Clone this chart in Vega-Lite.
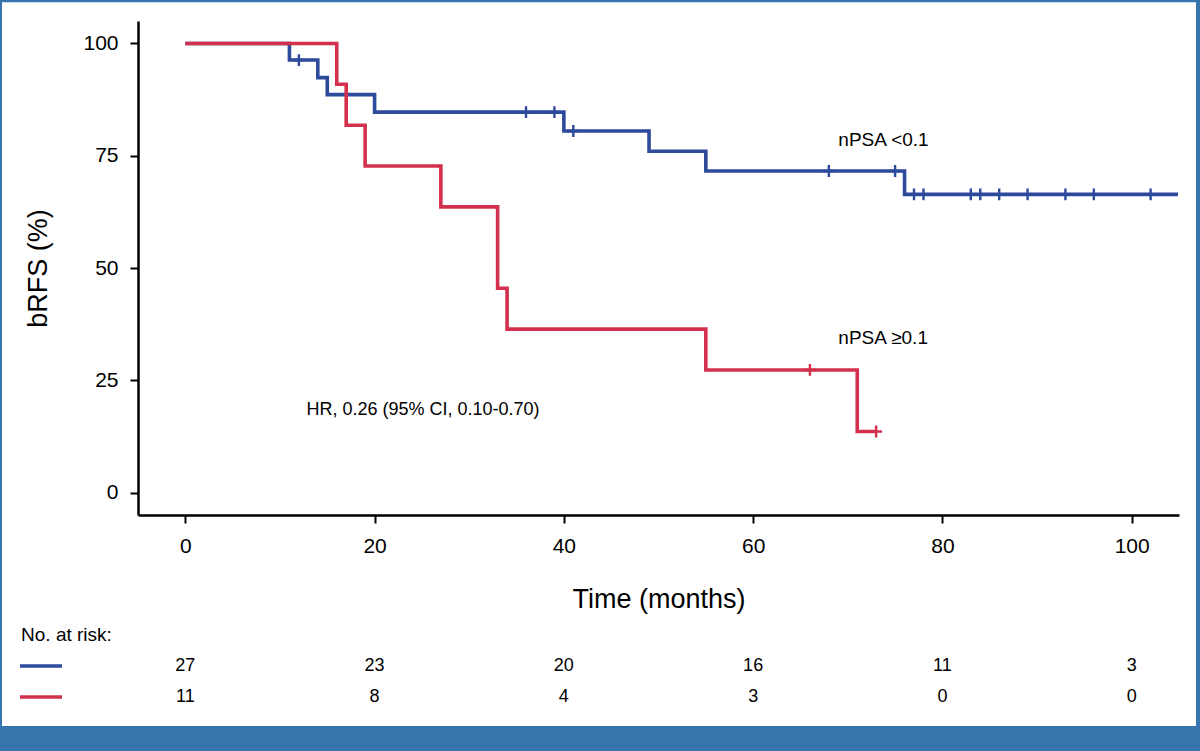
{
  "$schema": "https://vega.github.io/schema/vega-lite/v6.json",
  "width": 1041,
  "height": 494,
  "autosize": {"type": "none"},
  "padding": {"left": 138, "top": 21, "right": 21, "bottom": 236},
  "background": "#3574ac",
  "config": {"view": {"stroke": null}, "font": "Liberation Sans", "text": {"font": "Liberation Sans", "color": "black"}},
  "resolve": {"axis": {"x": "independent", "y": "independent"}},
  "datasets": {
    "km": [
      {"group": "nPSA <0.1", "time": 0, "surv": 100},
      {"group": "nPSA <0.1", "time": 11, "surv": 96.3},
      {"group": "nPSA <0.1", "time": 14, "surv": 92.4},
      {"group": "nPSA <0.1", "time": 15, "surv": 88.6},
      {"group": "nPSA <0.1", "time": 20, "surv": 84.7},
      {"group": "nPSA <0.1", "time": 40, "surv": 80.5},
      {"group": "nPSA <0.1", "time": 49, "surv": 76.0},
      {"group": "nPSA <0.1", "time": 55, "surv": 71.6},
      {"group": "nPSA <0.1", "time": 76, "surv": 66.4},
      {"group": "nPSA <0.1", "time": 104.9, "surv": 66.4},
      {"group": "nPSA ≥0.1", "time": 0, "surv": 100},
      {"group": "nPSA ≥0.1", "time": 16, "surv": 90.9},
      {"group": "nPSA ≥0.1", "time": 17, "surv": 81.8},
      {"group": "nPSA ≥0.1", "time": 19, "surv": 72.7},
      {"group": "nPSA ≥0.1", "time": 27, "surv": 63.6},
      {"group": "nPSA ≥0.1", "time": 33, "surv": 45.5},
      {"group": "nPSA ≥0.1", "time": 34, "surv": 36.4},
      {"group": "nPSA ≥0.1", "time": 55, "surv": 27.3},
      {"group": "nPSA ≥0.1", "time": 71, "surv": 13.6},
      {"group": "nPSA ≥0.1", "time": 73, "surv": 13.6}
    ],
    "censor": [
      {"group": "nPSA <0.1", "time": 12, "surv": 96.3},
      {"group": "nPSA <0.1", "time": 36, "surv": 84.7},
      {"group": "nPSA <0.1", "time": 39, "surv": 84.7},
      {"group": "nPSA <0.1", "time": 41, "surv": 80.5},
      {"group": "nPSA <0.1", "time": 68, "surv": 71.6},
      {"group": "nPSA <0.1", "time": 75, "surv": 71.6},
      {"group": "nPSA <0.1", "time": 77, "surv": 66.4},
      {"group": "nPSA <0.1", "time": 78, "surv": 66.4},
      {"group": "nPSA <0.1", "time": 83, "surv": 66.4},
      {"group": "nPSA <0.1", "time": 84, "surv": 66.4},
      {"group": "nPSA <0.1", "time": 86, "surv": 66.4},
      {"group": "nPSA <0.1", "time": 89, "surv": 66.4},
      {"group": "nPSA <0.1", "time": 93, "surv": 66.4},
      {"group": "nPSA <0.1", "time": 96, "surv": 66.4},
      {"group": "nPSA <0.1", "time": 102, "surv": 66.4},
      {"group": "nPSA ≥0.1", "time": 66, "surv": 27.3},
      {"group": "nPSA ≥0.1", "time": 73, "surv": 13.6}
    ],
    "risk": [
      {"group": "nPSA <0.1", "time": 0, "n": 27},
      {"group": "nPSA <0.1", "time": 20, "n": 23},
      {"group": "nPSA <0.1", "time": 40, "n": 20},
      {"group": "nPSA <0.1", "time": 60, "n": 16},
      {"group": "nPSA <0.1", "time": 80, "n": 11},
      {"group": "nPSA <0.1", "time": 100, "n": 3},
      {"group": "nPSA ≥0.1", "time": 0, "n": 11},
      {"group": "nPSA ≥0.1", "time": 20, "n": 8},
      {"group": "nPSA ≥0.1", "time": 40, "n": 4},
      {"group": "nPSA ≥0.1", "time": 60, "n": 3},
      {"group": "nPSA ≥0.1", "time": 80, "n": 0},
      {"group": "nPSA ≥0.1", "time": 100, "n": 0}
    ]
  },
  "layer": [
    {
      "data": {"values": [{}]},
      "mark": {"type": "rect", "color": "white"},
      "encoding": {
        "x": {"datum": -19.37, "type": "quantitative", "scale": {"domain": [-5, 105], "nice": false, "zero": false}, "axis": null},
        "x2": {"datum": 106.8},
        "y": {"datum": 109.2, "type": "quantitative", "scale": {"domain": [-5, 105], "nice": false, "zero": false}, "axis": null},
        "y2": {"datum": -52.0}
      }
    },
    {
      "data": {"name": "km"},
      "mark": {"type": "line", "interpolate": "step-after", "strokeWidth": 3.6},
      "encoding": {
        "x": {"field": "time", "type": "quantitative", "title": "Time (months)",
          "scale": {"domain": [-5, 105], "nice": false, "zero": false},
          "axis": {"zindex": 1, "values": [0, 20, 40, 60, 80, 100], "grid": false, "labelFontSize": 21, "labelColor": "black", "tickSize": 8, "tickWidth": 2, "tickColor": "black", "domainColor": "black", "domainWidth": 2.5, "labelPadding": 12, "titleFontSize": 27, "titleFontWeight": "normal", "titleColor": "black", "titlePadding": 30, "labelFlush": false}},
        "y": {"field": "surv", "type": "quantitative", "title": "bRFS (%)",
          "scale": {"domain": [-5, 105], "nice": false, "zero": false},
          "axis": {"zindex": 1, "values": [0, 25, 50, 75, 100], "grid": false, "labelFontSize": 21, "labelColor": "black", "tickSize": 8, "tickWidth": 2, "tickColor": "black", "domainColor": "black", "domainWidth": 2.5, "labelPadding": 12, "titleFontSize": 27, "titleFontWeight": "normal", "titleColor": "black", "titlePadding": 30, "labelFlush": false}},
        "color": {"field": "group", "type": "nominal", "scale": {"domain": ["nPSA <0.1", "nPSA ≥0.1"], "range": ["#2d4a9c", "#d3304e"]}, "legend": null}
      }
    },
    {
      "data": {"name": "censor"},
      "mark": {"type": "point", "shape": "M-1,0H1M0,-1V1", "filled": false, "strokeWidth": 2.4, "size": 140, "opacity": 1},
      "encoding": {
        "x": {"field": "time", "type": "quantitative", "axis": null},
        "y": {"field": "surv", "type": "quantitative", "axis": null},
        "color": {"field": "group", "type": "nominal", "legend": null}
      }
    },
    {
      "data": {"values": [{"label": "nPSA <0.1"}]},
      "mark": {"type": "text", "align": "left", "baseline": "middle", "fontSize": 19},
      "encoding": {"x": {"datum": 69, "axis": null}, "y": {"datum": 78.5, "axis": null}, "text": {"field": "label"}}
    },
    {
      "data": {"values": [{"label": "nPSA ≥0.1"}]},
      "mark": {"type": "text", "align": "left", "baseline": "middle", "fontSize": 19},
      "encoding": {"x": {"datum": 69, "axis": null}, "y": {"datum": 34.4, "axis": null}, "text": {"field": "label"}}
    },
    {
      "data": {"values": [{"label": "HR, 0.26 (95% CI, 0.10-0.70)"}]},
      "mark": {"type": "text", "align": "left", "baseline": "middle", "fontSize": 18},
      "encoding": {"x": {"datum": 12.8, "axis": null}, "y": {"datum": 18.4, "axis": null}, "text": {"field": "label"}}
    },
    {
      "data": {"values": [{"label": "No. at risk:"}]},
      "mark": {"type": "text", "align": "left", "baseline": "middle", "fontSize": 19},
      "encoding": {"x": {"datum": -17.36, "axis": null}, "y": {"datum": -31.7, "axis": null}, "text": {"field": "label"}}
    },
    {
      "data": {"values": [{}]},
      "mark": {"type": "rule", "color": "#2d4a9c", "strokeWidth": 3.5},
      "encoding": {"x": {"datum": -17.47, "axis": null}, "x2": {"datum": -13.03}, "y": {"datum": -38.6, "axis": null}}
    },
    {
      "data": {"values": [{}]},
      "mark": {"type": "rule", "color": "#d3304e", "strokeWidth": 3.5},
      "encoding": {"x": {"datum": -17.47, "axis": null}, "x2": {"datum": -13.03}, "y": {"datum": -45.5, "axis": null}}
    },
    {
      "data": {"name": "risk"},
      "transform": [{"filter": "datum.group === 'nPSA <0.1'"}],
      "mark": {"type": "text", "align": "center", "baseline": "middle", "fontSize": 18},
      "encoding": {"x": {"field": "time", "type": "quantitative", "axis": null}, "y": {"datum": -38.6, "axis": null}, "text": {"field": "n"}}
    },
    {
      "data": {"name": "risk"},
      "transform": [{"filter": "datum.group === 'nPSA ≥0.1'"}],
      "mark": {"type": "text", "align": "center", "baseline": "middle", "fontSize": 18},
      "encoding": {"x": {"field": "time", "type": "quantitative", "axis": null}, "y": {"datum": -45.5, "axis": null}, "text": {"field": "n"}}
    }
  ]
}
